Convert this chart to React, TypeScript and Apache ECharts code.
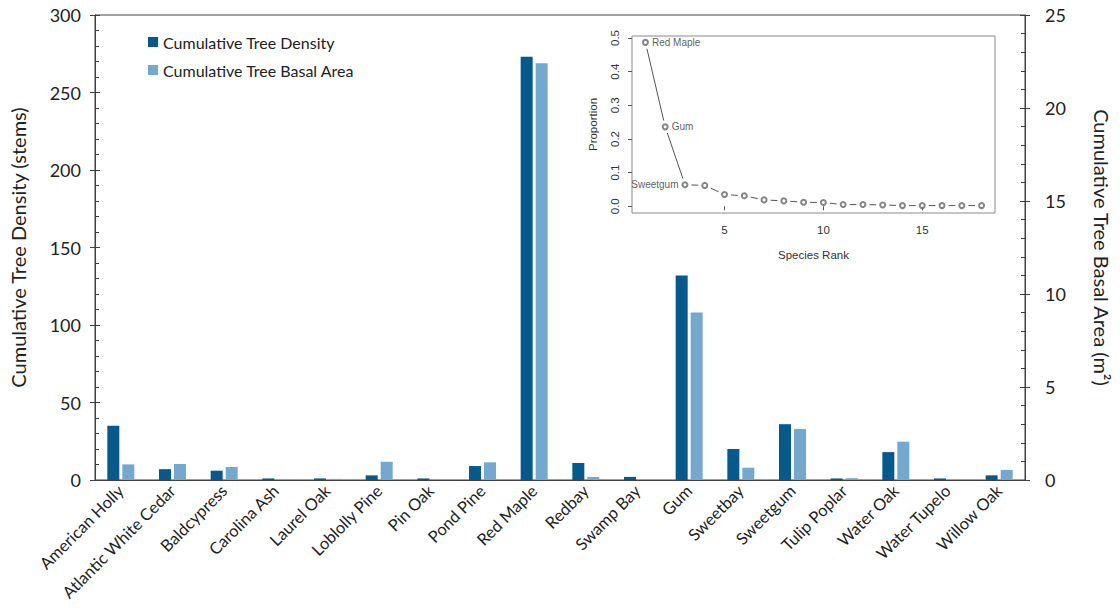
import React, { useEffect, useRef } from "react";
import * as echarts from "echarts";

const species = [
  "American Holly", "Atlantic White Cedar", "Baldcypress", "Carolina Ash", "Laurel Oak",
  "Loblolly Pine", "Pin Oak", "Pond Pine", "Red Maple", "Redbay", "Swamp Bay", "Gum",
  "Sweetbay", "Sweetgum", "Tulip Poplar", "Water Oak", "Water Tupelo", "Willow Oak",
];
const densityStems = [35, 7, 6, 1, 1, 3, 1, 9, 273, 11, 2, 132, 20, 36, 1, 18, 1, 3];
const basalAreaM2 = [0.84, 0.86, 0.7, 0, 0.06, 0.98, 0, 0.95, 22.4, 0.16, 0, 9.0, 0.66, 2.74, 0.1, 2.06, 0, 0.54];

const leftTicks = [0, 50, 100, 150, 200, 250, 300];
const rightTicks = [0, 5, 10, 15, 20, 25];

const insetRanks = [1, 2, 3, 4, 5, 6, 7, 8, 9, 10, 11, 12, 13, 14, 15, 16, 17, 18];
const insetProportion = [0.487, 0.236, 0.064, 0.062, 0.035, 0.031, 0.019, 0.016, 0.012, 0.011, 0.005, 0.005, 0.004, 0.002, 0.002, 0.002, 0.002, 0.002];
const insetLabels: Record<number, string> = { 0: "Red Maple", 1: "Gum", 2: "Sweetgum" };
const insetXTicks = [5, 10, 15];
const insetYTicks = [0, 0.1, 0.2, 0.3, 0.4, 0.5];

const DARK = "#045a8d";
const LIGHT = "#74a9cf";
const AXIS = "#404040";
const MAINFONT = "Lato";
const RFONT = "Liberation Sans";
const RGRAY = "#555";

export default function App() {
  const ref = useRef<HTMLDivElement>(null);
  useEffect(() => {
    if (!ref.current) return;
    const chart = echarts.init(ref.current, null, { renderer: "svg" });
    const insetData = insetRanks.map((r, i) => [r, insetProportion[i]]);
    const insetSegments = insetData.slice(0, -1).map((d, i) => [d[0], d[1], insetData[i + 1][0], insetData[i + 1][1]]);
    const option: any = {
      animation: false,
      backgroundColor: "#fff",
      textStyle: { fontFamily: MAINFONT },
      legend: {
        orient: "vertical",
        left: 143,
        top: 29,
        itemWidth: 10,
        itemHeight: 10,
        itemGap: 12,
        icon: "rect",
        data: ["Cumulative Tree Density", "Cumulative Tree Basal Area"],
        textStyle: { fontSize: 16, color: "#222", fontFamily: MAINFONT },
      },
      grid: [
        { left: 94, right: 84, top: 15, bottom: 135, show: true, borderColor: AXIS, borderWidth: 1 },
        { left: 632, top: 36, width: 363, height: 177, show: true, borderColor: "#8a8a8a", borderWidth: 1 },
      ],
      xAxis: [
        {
          type: "category",
          gridIndex: 0,
          data: species,
          axisLine: { lineStyle: { color: AXIS } },
          axisTick: { show: false },
          axisLabel: { rotate: 45, interval: 0, fontSize: 16.5, color: "#222", margin: 8 },
        },
        {
          type: "value",
          gridIndex: 1,
          min: 0.32,
          max: 18.68,
          axisLine: { show: false },
          splitLine: { show: false },
          axisTick: { show: true, customValues: insetXTicks, length: 4, lineStyle: { color: RGRAY } },
          axisLabel: {
            customValues: insetXTicks,
            fontSize: 11.5,
            color: "#333",
            fontFamily: RFONT,
            margin: 11,
          },
          name: "Species Rank",
          nameLocation: "middle",
          nameGap: 36,
          nameTextStyle: { fontSize: 11.5, color: "#333", fontFamily: RFONT },
        },
      ],
      yAxis: [
        {
          type: "value",
          gridIndex: 0,
          position: "left",
          min: 0,
          max: 300,
          interval: 50,
          axisLine: { show: true, lineStyle: { color: AXIS } },
          axisTick: { show: true, inside: true, length: 5, lineStyle: { color: AXIS } },
          minorTick: { show: true, splitNumber: 5, length: 4, lineStyle: { color: AXIS } },
          splitLine: { show: false },
          axisLabel: {
            fontSize: 18,
            color: "#222",
            margin: 14,
            formatter: (v: number) => (leftTicks.includes(v) ? String(v) : ""),
          },
          name: "Cumulative Tree Density (stems)",
          nameLocation: "middle",
          nameGap: 67,
          nameTextStyle: { fontSize: 20, color: "#222" },
        },
        {
          type: "value",
          gridIndex: 0,
          position: "right",
          min: 0,
          max: 25,
          interval: 5,
          axisLine: { show: true, lineStyle: { color: AXIS } },
          axisTick: { show: true, inside: true, length: 5, lineStyle: { color: AXIS } },
          minorTick: { show: true, splitNumber: 5, length: 4, lineStyle: { color: AXIS } },
          splitLine: { show: false },
          axisLabel: {
            fontSize: 18,
            color: "#222",
            margin: 20,
            formatter: (v: number) => (rightTicks.includes(v) ? String(v) : ""),
          },
          name: "Cumulative Tree Basal Area (m²)",
          nameLocation: "middle",
          nameRotate: -90,
          nameGap: 67,
          nameTextStyle: { fontSize: 20, color: "#222" },
        },
        {
          type: "value",
          gridIndex: 0,
          position: "left",
          min: 0,
          max: 300,
          interval: 50,
          axisLine: { show: false },
          axisTick: { show: true, inside: false, length: 5, lineStyle: { color: AXIS } },
          axisLabel: { show: false },
          splitLine: { show: false },
        },
        {
          type: "value",
          gridIndex: 0,
          position: "right",
          min: 0,
          max: 25,
          interval: 5,
          axisLine: { show: false },
          axisTick: { show: true, inside: false, length: 5, lineStyle: { color: AXIS } },
          axisLabel: { show: false },
          splitLine: { show: false },
        },
        {
          type: "value",
          gridIndex: 1,
          min: -0.02,
          max: 0.506,
          axisLine: { show: false },
          splitLine: { show: false },
          axisTick: { show: true, customValues: insetYTicks, length: 4, lineStyle: { color: RGRAY } },
          axisLabel: {
            customValues: insetYTicks,
            rotate: 90,
            fontSize: 11.5,
            color: "#333",
            fontFamily: RFONT,
            margin: 11,
            formatter: (v: number) => v.toFixed(1),
          },
          name: "Proportion",
          nameLocation: "middle",
          nameRotate: 90,
          nameGap: 33,
          nameTextStyle: { fontSize: 11.5, color: "#333", fontFamily: RFONT },
        },
      ],
      series: [
        {
          name: "Cumulative Tree Density",
          type: "bar",
          xAxisIndex: 0,
          yAxisIndex: 0,
          data: densityStems,
          barWidth: 12,
          barGap: "25%",
          itemStyle: { color: DARK },
        },
        {
          name: "Cumulative Tree Basal Area",
          type: "bar",
          xAxisIndex: 0,
          yAxisIndex: 1,
          data: basalAreaM2,
          barWidth: 12,
          barGap: "25%",
          itemStyle: { color: LIGHT },
        },
        {
          name: "insetSegments",
          type: "custom",
          xAxisIndex: 1,
          yAxisIndex: 4,
          silent: true,
          data: insetSegments,
          encode: { x: [0, 2], y: [1, 3] },
          renderItem: (params: any, api: any) => {
            const a = api.coord([api.value(0), api.value(1)]);
            const b = api.coord([api.value(2), api.value(3)]);
            const dx = b[0] - a[0];
            const dy = b[1] - a[1];
            const len = Math.sqrt(dx * dx + dy * dy);
            const gap = 6.5;
            if (len <= gap * 2 + 1) return null;
            const ux = dx / len;
            const uy = dy / len;
            return {
              type: "line",
              shape: {
                x1: a[0] + ux * gap,
                y1: a[1] + uy * gap,
                x2: b[0] - ux * gap,
                y2: b[1] - uy * gap,
              },
              style: { stroke: RGRAY, lineWidth: 1 },
            };
          },
        },
        {
          name: "insetPoints",
          type: "scatter",
          xAxisIndex: 1,
          yAxisIndex: 4,
          symbol: "emptyCircle",
          symbolSize: 5,
          itemStyle: { color: "#666", borderColor: "#666", borderWidth: 1 },
          silent: true,
          z: 4,
          data: insetData.map((d, i) =>
            insetLabels[i]
              ? {
                  value: d,
                  label: {
                    show: true,
                    formatter: insetLabels[i],
                    position: i === 2 ? "left" : "right",
                    distance: 3,
                    fontSize: 10,
                    color: "#333",
                    fontFamily: RFONT,
                  },
                }
              : { value: d }
          ),
        },
      ],
    };
    chart.setOption(option);
    return () => chart.dispose();
  }, []);
  return (
    <div
      ref={ref}
      style={{ position: "fixed", left: 0, top: 0, width: 1120, height: 615, background: "#fff" }}
    />
  );
}
